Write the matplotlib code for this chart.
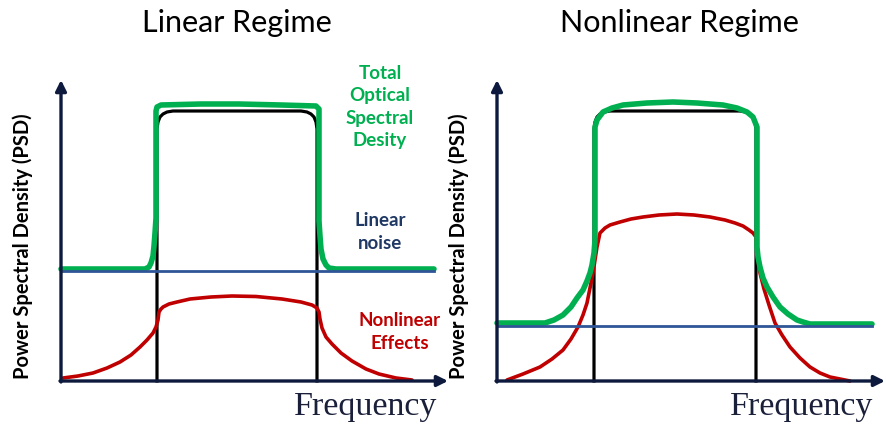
import matplotlib
matplotlib.use("Agg")
import matplotlib.pyplot as plt

# ---------------- data (frequency, PSD) ----------------
# Left panel: Linear regime
lin_sig_x = [96, 96, 97, 99, 102, 106, 112, 240, 246, 250, 253, 255, 256, 256]
lin_sig_y = [0, 252, 259, 264, 267, 269, 270, 270, 269, 267, 264, 259, 252, 0]

lin_tot_x = [0, 84, 88, 90, 92, 93, 94, 95, 95, 96, 100, 140, 178, 220, 255, 258,
             258, 259, 260, 262, 265, 268, 275, 373]
lin_tot_y = [112, 112, 114, 118, 125, 135, 148, 163, 270, 274, 276, 277, 277, 276, 275, 272,
             160, 145, 132, 122, 116, 113, 112, 112]

lin_noise_x = [0, 373]
lin_noise_y = [110, 110]

lin_nl_x = [2, 17, 32, 46, 59, 70, 79, 86, 92, 95, 97, 98, 100, 102, 108, 116, 129, 150,
            171, 195, 221, 240, 251, 256, 258, 259, 261, 265, 271, 280, 291, 305, 318,
            335, 351]
lin_nl_y = [3, 5, 8, 13, 19, 26, 34, 41, 48, 54, 61, 69, 72, 74, 77, 79, 82, 84,
            85, 84.5, 82, 79, 76, 73, 69, 62, 53, 44, 37, 28, 20, 12, 7, 3, 1]

# Right panel: Nonlinear regime
nl_sig_x = [97, 97, 98, 100, 103, 107, 113, 243, 249, 253, 256, 258, 259, 259]
nl_sig_y = [0, 252, 259, 264, 267, 269, 270, 270, 269, 267, 264, 259, 252, 0]

nl_tot_x = [0, 48, 57, 66, 74, 80, 86, 90, 93, 95, 97, 98, 98, 100, 106, 115, 126,
            150, 176, 200, 226, 240, 250, 256, 258, 260, 260, 261, 263, 266, 270, 276,
            283, 291, 300, 306, 313, 375]
nl_tot_y = [58, 58, 61, 66, 74, 83, 91, 100, 108, 116, 128, 141, 254, 261, 269, 273, 276,
            278, 279, 278, 276, 273, 269, 264, 259, 254, 134, 124, 114, 103, 94, 84,
            74, 67, 61, 59, 57, 57]

nl_noise_x = [0, 375]
nl_noise_y = [55, 55]

nl_nl_x = [10, 26, 43, 55, 66, 74, 81, 86, 90, 93, 96, 98, 100, 103, 108, 113, 123, 134,
           146, 162, 180, 197, 213, 228, 238, 246, 252, 256, 259, 260, 261, 263, 267,
           272, 278, 285, 293, 303, 313, 323, 333, 353]
nl_nl_y = [1, 7, 14, 22, 31, 42, 54, 66, 78, 93, 108, 121, 134, 148, 153, 156, 159, 162,
           164, 166, 167, 166, 164, 161, 158, 155, 151, 148, 144, 134, 122, 108, 92,
           76, 58, 46, 34, 23, 14, 8, 4, 0]

titles = ["Linear Regime", "Nonlinear Regime"]
ylabel = "Power Spectral Density (PSD)"
xlabel = "Frequency"
label_total = "Total\nOptical\nSpectral\nDesity"
label_noise = "Linear\nnoise"
label_nl = "Nonlinear\nEffects"

# ---------------- styling ----------------
GREEN = "#00b050"
RED = "#c00000"
BLUE = "#2f5597"
NAVY = "#1f3864"
AXC = "#0d1a3d"
BLACK = "#000000"

fig = plt.figure(figsize=(8.86, 4.25), dpi=100)
fig.patch.set_facecolor("white")

ax1 = fig.add_axes([0, 0, 0.5, 1])
ax2 = fig.add_axes([0.5, 0, 0.5, 1])
ax1.set_xlim(-61, 382)
ax2.set_xlim(-54, 389)
for ax in (ax1, ax2):
    ax.set_ylim(-44, 381)
    ax.axis("off")


def draw_panel(ax, sx, sy, tx, ty, nx, ny, rx, ry, xtip, title, title_x, title_fs):
    # axes arrows
    ax.annotate("", xy=(0, 301), xytext=(0, -1),
                arrowprops=dict(arrowstyle="-|>", lw=2.4, color=AXC,
                                mutation_scale=16, shrinkA=0, shrinkB=0),
                annotation_clip=False, zorder=5)
    ax.annotate("", xy=(xtip, 0), xytext=(-1, 0),
                arrowprops=dict(arrowstyle="-|>", lw=2.4, color=AXC,
                                mutation_scale=16, shrinkA=0, shrinkB=0),
                annotation_clip=False, zorder=5)
    ax.plot(sx, sy, color=BLACK, lw=2.3, zorder=1, solid_joinstyle="round")
    ax.plot(rx, ry, color=RED, lw=2.6, zorder=2, solid_joinstyle="round",
            solid_capstyle="round")
    ax.plot(tx, ty, color=GREEN, lw=4.0, zorder=3, solid_joinstyle="round",
            solid_capstyle="round")
    ax.plot(nx, ny, color=BLUE, lw=2.0, zorder=4)
    ax.text(-38, 135, ylabel, rotation=90, ha="center", va="center",
            fontsize=14.5, fontweight="bold", family="Lato", color="black")
    ax.text(305, -26, xlabel, ha="center", va="center", fontsize=24.5,
            family="Liberation Serif", color="#1a1f3a")
    ax.text(title_x, 358, title, ha="center", va="center", fontsize=title_fs,
            family="Lato", color="black")


draw_panel(ax1, lin_sig_x, lin_sig_y, lin_tot_x, lin_tot_y, lin_noise_x, lin_noise_y,
           lin_nl_x, lin_nl_y, 387, titles[0], 176, 22)
draw_panel(ax2, nl_sig_x, nl_sig_y, nl_tot_x, nl_tot_y, nl_noise_x, nl_noise_y,
           nl_nl_x, nl_nl_y, 388, titles[1], 182, 22)

ax1.text(319, 274, label_total, ha="center", va="center", fontsize=13.5,
         fontweight="bold", family="Lato", color=GREEN, linespacing=1.4)
ax1.text(319, 149, label_noise, ha="center", va="center", fontsize=13.5,
         fontweight="bold", family="Lato", color=NAVY, linespacing=1.4)
ax1.text(339, 49, label_nl, ha="center", va="center", fontsize=13.5,
         fontweight="bold", family="Lato", color=RED, linespacing=1.4)

fig.savefig("out.png", dpi=100, facecolor="white")
